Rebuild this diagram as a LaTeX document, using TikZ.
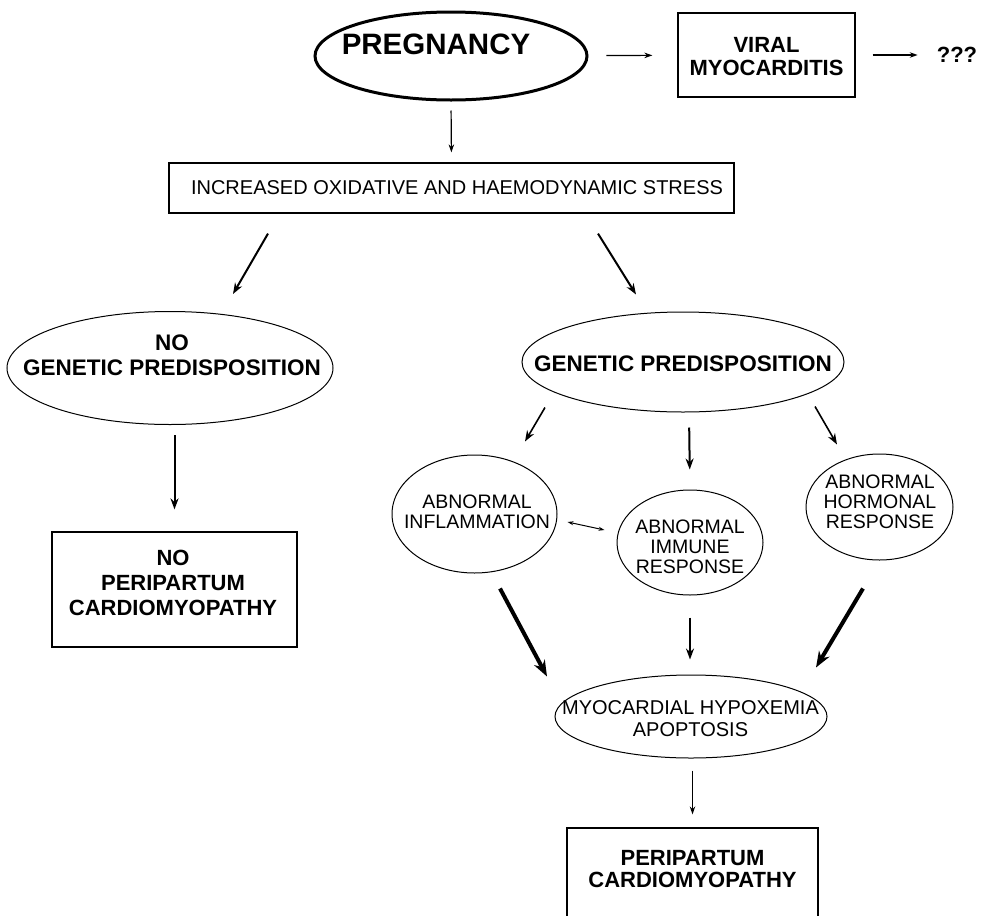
\documentclass[tikz,border=0pt]{standalone}
\usepackage{fontspec}
\setmainfont{Liberation Sans}
\usetikzlibrary{shapes,arrows.meta,positioning}

\begin{document}
\begin{tikzpicture}[x=1pt,y=-1pt,
    oval/.style={draw,ellipse,inner sep=0pt,line width=1pt},
    box/.style={draw,rectangle,inner sep=0pt,line width=1.2pt},
    txt/.style={align=center,inner sep=0pt,font=\fontsize{19.5}{20}\selectfont},
    btxt/.style={align=center,inner sep=0pt,font=\bfseries\fontsize{22}{23}\selectfont},
    link/.style={-{Stealth[length=8pt,width=5.5pt]},line width=1.2pt},
    midlink/.style={-{Stealth[length=11pt,width=8pt]},line width=2pt},
    biglink/.style={-{Stealth[length=16pt,width=12pt]},line width=4pt}]
\useasboundingbox (0,0) rectangle (983,916);

% top row
\node[oval,line width=3pt,minimum width=272pt,minimum height=88pt] (preg) at (451,56) {};
\node[inner sep=0pt,font=\bfseries\fontsize{29.5}{29.5}\selectfont] (pregtext) at (436,44) {PREGNANCY};
\node[box,minimum width=177pt,minimum height=84pt] (viral) at (766.5,55) {};
\node[btxt] (viraltext) at (766.5,56.5) {VIRAL\\MYOCARDITIS};
\node[btxt] (unknown) at (957,55) {???};

\node[box,minimum width=565pt,minimum height=50pt] (stress) at (451.5,188) {};
\node[txt,font=\fontsize{20}{20}\selectfont] (stresstext) at (457,188) {INCREASED OXIDATIVE AND HAEMODYNAMIC STRESS};

% left branch
\node[oval,minimum width=326pt,minimum height=113pt] (nogen) at (170,368) {};
\node[btxt,font=\bfseries\fontsize{22.5}{25}\selectfont] (nogentext) at (172,355.5) {NO\\GENETIC PREDISPOSITION};
\node[box,minimum width=245pt,minimum height=115pt] (noppcm) at (174.5,589.5) {};
\node[btxt,font=\bfseries\fontsize{22}{25}\selectfont] (noppcmtext) at (173,583) {NO\\PERIPARTUM\\CARDIOMYOPATHY};

% right branch
\node[oval,minimum width=322pt,minimum height=100pt] (gen) at (683,362) {};
\node[btxt,font=\bfseries\fontsize{22.5}{25}\selectfont] (gentext) at (683,364) {GENETIC PREDISPOSITION};

\node[oval,minimum width=165pt,minimum height=118pt] (inflam) at (474.5,514) {};
\node[txt] (inflamtext) at (477,512) {ABNORMAL\\INFLAMMATION};
\node[oval,minimum width=146pt,minimum height=105pt] (immune) at (690,542.5) {};
\node[txt] (immunetext) at (690,547) {ABNORMAL\\IMMUNE\\RESPONSE};
\node[oval,minimum width=147pt,minimum height=106pt] (hormone) at (879.5,507) {};
\node[txt] (hormonetext) at (880,502) {ABNORMAL\\HORMONAL\\RESPONSE};

\node[oval,minimum width=272pt,minimum height=83pt] (myo) at (691,716.5) {};
\node[txt,font=\fontsize{20}{22}\selectfont] (myotext) at (690.5,719) {MYOCARDIAL HYPOXEMIA\\APOPTOSIS};
\node[box,minimum width=251pt,minimum height=110pt] (ppcm) at (692.5,883) {};
\node[btxt,font=\bfseries\fontsize{22}{22}\selectfont] (ppcmtext) at (692.5,869) {PERIPARTUM\\CARDIOMYOPATHY};

% arrows
\draw[link,shorten <=18pt,shorten >=25pt] (preg) -- (viral);
\draw[link,shorten <=17pt,shorten >=19pt] (viral) -- (unknown);
\draw[link,shorten <=9pt,shorten >=10pt] (preg.south) -- (stress.north);
\draw[midlink] ([xshift=-183.5pt,yshift=-20pt]stress.south) -- ([xshift=63pt,yshift=17pt]nogen.north);
\draw[midlink] ([xshift=146.5pt,yshift=-20pt]stress.south) -- ([xshift=-47pt,yshift=17pt]gen.north);
\draw[midlink,shorten <=10pt,shorten >=22pt] (noppcm.north |- nogen.south) -- (noppcm.north);

\draw[midlink,line width=1.6pt] ([xshift=-138pt,yshift=5pt]gen.south) -- ([xshift=50.5pt,yshift=13pt]inflam.north);
\draw[midlink,shorten <=15pt,shorten >=20pt] ([xshift=6pt]gen.south) -- (immune.north);
\draw[midlink,line width=1.6pt] ([xshift=132pt,yshift=6pt]gen.south) -- ([xshift=-42.5pt,yshift=9pt]hormone.north);
\draw[{Stealth[length=6pt,width=4pt]}-{Stealth[length=6pt,width=4pt]},line width=1pt] ([xshift=10pt,yshift=-8pt]inflam.east) -- ([xshift=-12pt,yshift=12.5pt]immune.west);

\draw[biglink] ([xshift=25.5pt,yshift=-15pt]inflam.south) -- ([xshift=-144pt,yshift=-2pt]myo.north);
\draw[midlink,shorten <=22pt,shorten >=15pt] (immune.south) -- (immune.south |- myo.north);
\draw[biglink] ([xshift=-16.5pt,yshift=-28pt]hormone.south) -- ([xshift=125pt,yshift=7pt]myo.north);
\draw[link,shorten <=12pt,shorten >=13pt] (ppcm.north |- myo.south) -- (ppcm.north);
\end{tikzpicture}
\end{document}
